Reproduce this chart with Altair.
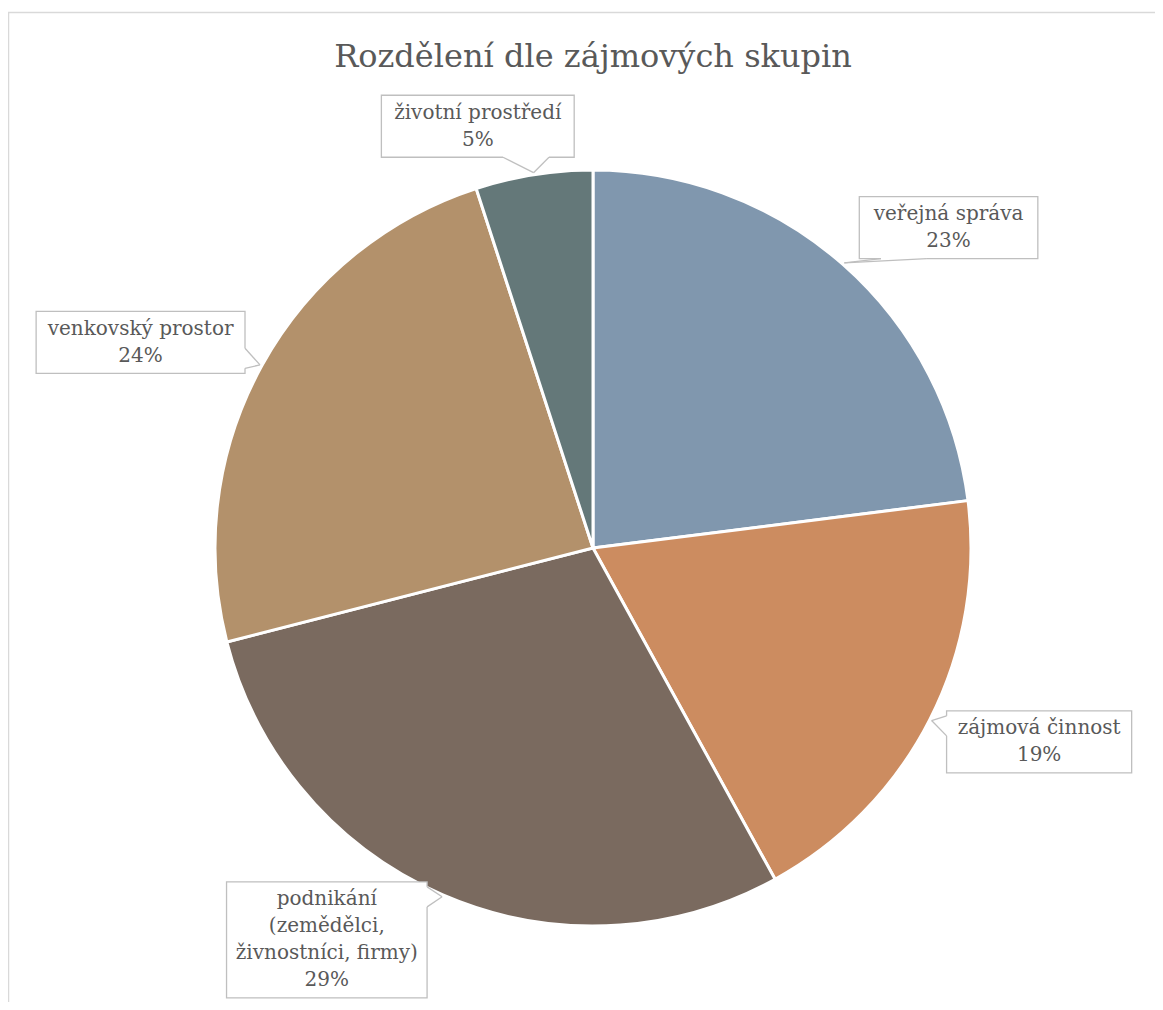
import altair as alt
import pandas as pd

# ---- data ----
TITLE = "Rozdělení dle zájmových skupin"
categories = [
    "veřejná správa",
    "zájmová činnost",
    "podnikání (zemědělci, živnostníci, firmy)",
    "venkovský prostor",
    "životní prostředí",
]
label_lines = [
    ["veřejná správa"],
    ["zájmová činnost"],
    ["podnikání", "(zemědělci,", "živnostníci, firmy)"],
    ["venkovský prostor"],
    ["životní prostředí"],
]
values = [23, 19, 29, 24, 5]
colors = ["#8097AE", "#CC8C60", "#7A6A5F", "#B3916B", "#647879"]

# ---- layout (not data) ----
W, H = 1147, 994
CX, CY, R = 585, 540, 378
TIP = 2
HGAP = 15
VSHIFT = 47
FONT = "DejaVu Serif"
FS = 20
LH = 27
UNIT_W = 11.9
PAD_W = 28
TEXT_COL = "#595959"
BOX_COL = "#BFBFBF"
BOTTOM_LIMIT = 996
NARROW = set("ijlítfr,.() ")


def text_w(s):
    return sum(0.55 if ch in NARROW else (1.4 if ch == "%" else 1.0) for ch in s) * UNIT_W


df = pd.DataFrame({
    "cat": categories,
    "value": values,
    "order": list(range(len(categories))),
    "label": ["\n".join(l + [f"{v}%"]) for l, v in zip(label_lines, values)],
    "nl": [len(l) + 1 for l in label_lines],
    "hw": [(max(text_w(s) for s in l + [f"{v}%"]) + PAD_W) / 2 for l, v in zip(label_lines, values)],
    "hh": [((len(l) + 1) * LH + 8) / 2 for l in label_lines],
})

pie = alt.Chart(df).mark_arc(outerRadius=R, stroke="white", strokeWidth=3).encode(
    theta=alt.Theta("value:Q", stack=True),
    order=alt.Order("order:Q"),
    color=alt.Color("cat:N", scale=alt.Scale(domain=categories, range=colors), legend=None),
    x=alt.value(CX),
    y=alt.value(CY),
)

lab = (
    alt.Chart(df)
    .transform_joinaggregate(total="sum(value)")
    .transform_window(cum="sum(value)", sort=[alt.SortField("order")], frame=[None, 0])
    .transform_calculate(mid="(datum.cum - datum.value/2) / datum.total * 2 * PI")
    .transform_calculate(s="sin(datum.mid)")
    .transform_calculate(c="cos(datum.mid)")
    .transform_calculate(tx=f"{CX} + {R + TIP}*datum.s")
    .transform_calculate(ty=f"{CY} - {R + TIP}*datum.c")
    .transform_calculate(bx=f"datum.tx + (datum.s < 0 ? -1 : 1) * (datum.hw + {HGAP}) * min(1, 3.2*abs(datum.s))")
    .transform_calculate(by0=f"datum.ty - {VSHIFT}*datum.c")
    .transform_calculate(by=f"min(datum.by0, {BOTTOM_LIMIT} - datum.hh)")
    .transform_calculate(left="datum.bx - datum.hw")
    .transform_calculate(right="datum.bx + datum.hw")
    .transform_calculate(top="datum.by - datum.hh")
    .transform_calculate(bottom="datum.by + datum.hh")
    .transform_calculate(ytext=f"datum.by - (datum.nl - 1) * {LH} / 2")
    .transform_calculate(edge="datum.ty > datum.bottom ? 'b' : (datum.ty < datum.top ? 't' : (datum.tx < datum.left ? 'l' : 'r'))")
    .transform_calculate(bcx="clamp(datum.tx, datum.left + datum.hw/2, datum.right - datum.hw/2)")
    .transform_calculate(bcy="clamp(datum.ty, datum.top + 15, datum.bottom - 15)")
    .transform_calculate(b1x="(datum.edge=='b'||datum.edge=='t') ? datum.bcx - 23 : (datum.edge=='l' ? datum.left : datum.right)")
    .transform_calculate(b1y="datum.edge=='b' ? datum.bottom : (datum.edge=='t' ? datum.top : datum.bcy - 10)")
    .transform_calculate(b2x="(datum.edge=='b'||datum.edge=='t') ? datum.bcx + 23 : (datum.edge=='l' ? datum.left : datum.right)")
    .transform_calculate(b2y="datum.edge=='b' ? datum.bottom : (datum.edge=='t' ? datum.top : datum.bcy + 10)")
)

boxes = lab.mark_rect(fill="white", stroke=BOX_COL, strokeWidth=1.3).encode(
    x=alt.X("left:Q", scale=None), x2="right:Q",
    y=alt.Y("top:Q", scale=None), y2="bottom:Q",
)
gapfix = lab.mark_rule(color="white", strokeWidth=3).encode(
    x=alt.X("b1x:Q", scale=None), y=alt.Y("b1y:Q", scale=None), x2="b2x:Q", y2="b2y:Q",
)
ptr1 = lab.mark_rule(color=BOX_COL, strokeWidth=1.3).encode(
    x=alt.X("b1x:Q", scale=None), y=alt.Y("b1y:Q", scale=None), x2="tx:Q", y2="ty:Q",
)
ptr2 = lab.mark_rule(color=BOX_COL, strokeWidth=1.3).encode(
    x=alt.X("b2x:Q", scale=None), y=alt.Y("b2y:Q", scale=None), x2="tx:Q", y2="ty:Q",
)
texts = lab.mark_text(
    font=FONT, fontSize=FS, color=TEXT_COL, align="center", baseline="middle",
    lineBreak="\n", lineHeight=LH,
).encode(
    x=alt.X("bx:Q", scale=None), y=alt.Y("ytext:Q", scale=None), text="label:N",
)

title = alt.Chart(pd.DataFrame({"t": [TITLE]})).mark_text(
    font=FONT, fontSize=32, color=TEXT_COL, align="center", baseline="alphabetic",
).encode(x=alt.value(CX), y=alt.value(59), text="t:N")

frame = alt.Chart(pd.DataFrame({"t": [TITLE]})).mark_rect(
    fill="white", stroke="#D9D9D9", strokeWidth=1.5,
).encode(x=alt.value(0.5), y=alt.value(4.5), x2=alt.value(W + 50), y2=alt.value(H + 50))

chart = alt.layer(frame, title, pie, boxes, gapfix, ptr1, ptr2, texts).properties(
    width=W, height=H, padding=0, autosize=alt.AutoSizeParams(type="none"),
).configure_view(stroke=None)

chart.save("out.html", embed_options={"renderer": "svg", "actions": False})
